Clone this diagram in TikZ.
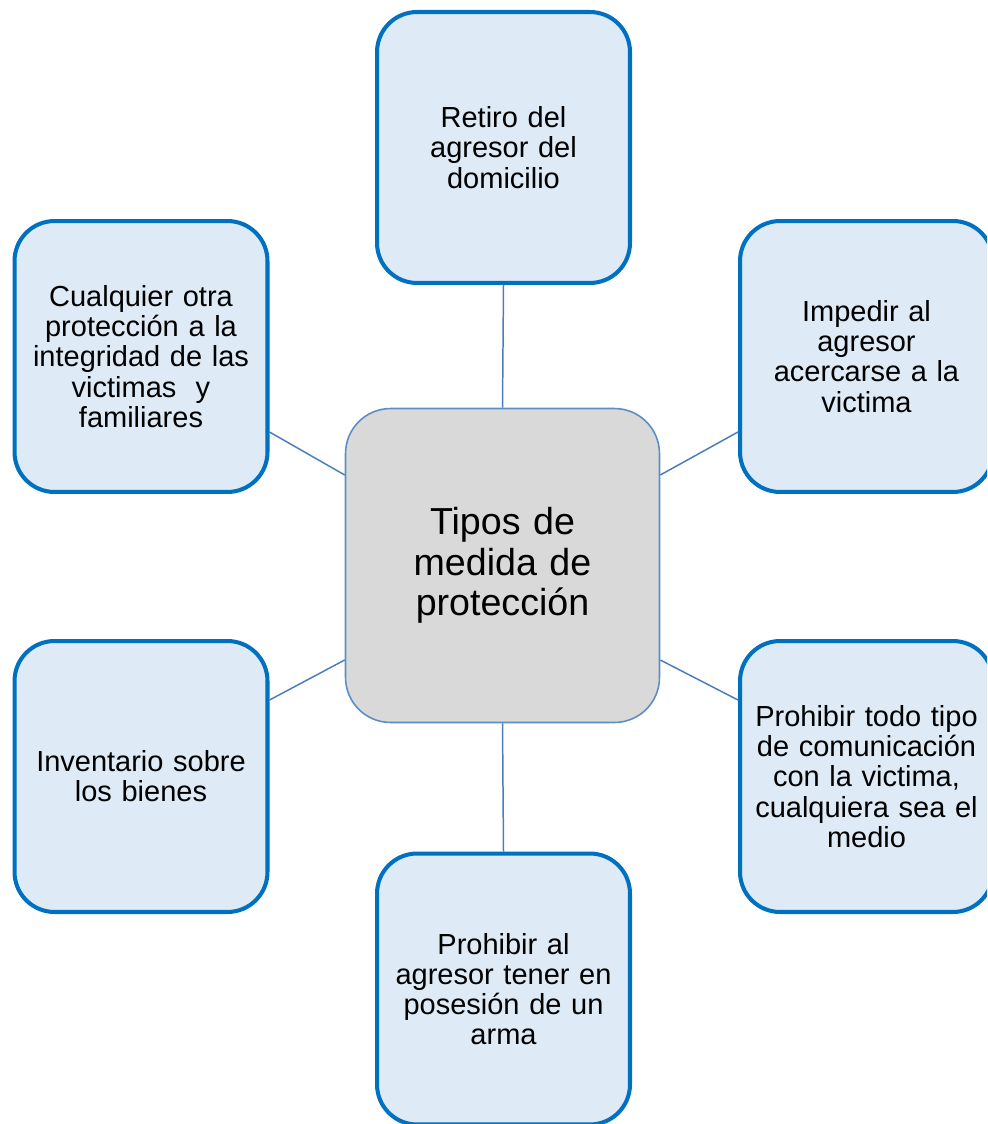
\documentclass[tikz,border=0pt]{standalone}
\usepackage{fontspec}
\setmainfont{Liberation Sans}
\usetikzlibrary{positioning,calc}
\definecolor{boxblue}{HTML}{0070C0}
\definecolor{boxfill}{HTML}{DEEAF6}
\definecolor{centerfill}{HTML}{D9D9D9}
\definecolor{centerline}{HTML}{5B8EC6}
\definecolor{linkblue}{HTML}{4A7EBB}

\begin{document}
\begin{tikzpicture}[x=0.02cm, y=-0.02cm,
  measure/.style={draw=boxblue, line width=2.3pt, fill=boxfill,
    rounded corners=0.8cm, minimum width=5.06cm, minimum height=5.42cm,
    text width=4.9cm, align=center, inner sep=0pt,
    font=\fontsize{16.5}{17.2}\selectfont},
  topic/.style={draw=centerline, line width=0.9pt, fill=centerfill,
    rounded corners=0.9cm, minimum width=6.28cm, minimum height=6.28cm,
    text width=5.8cm, align=center, inner sep=0pt,
    font=\fontsize{21.4}{23}\selectfont},
  link/.style={draw=linkblue, line width=0.85pt}]
  \clip (0,0) rectangle (987,1124);
  % centre
  \node[topic] (tipos) at (502.5,565.5) {Tipos de\\medida de\\protección};
  % the six measures
  \node[measure] (retiro) at (503.5,147.5) {Retiro del\\agresor del\\domicilio};
  \node[measure] (otra) at (141,356.5) {Cualquier otra\\protección a la\\integridad de las\\victimas\ \ y\\familiares};
  \node[measure] (impedir) at (866.5,356.5) {Impedir al\\agresor\\acercarse a la\\victima};
  \node[measure] (inventario) at (141,776.5) {Inventario sobre\\los bienes};
  \node[measure] (comunicacion) at (866.5,776.5) {Prohibir todo tipo\\de comunicación\\con la victima,\\cualquiera sea el\\medio};
  \node[measure] (arma) at (503.5,989) {Prohibir al\\agresor tener en\\posesión de un\\arma};
  % links
  \draw[link] (tipos.north) -- (retiro.south);
  \draw[link] (tipos.south) -- (arma.north);
  \draw[link] ([yshift=1.81cm]tipos.west) -- ([yshift=-1.51cm]otra.east);
  \draw[link] ([yshift=1.81cm]tipos.east) -- ([yshift=-1.51cm]impedir.west);
  \draw[link] ([yshift=-1.89cm]tipos.west) -- ([yshift=1.53cm]inventario.east);
  \draw[link] ([yshift=-1.89cm]tipos.east) -- ([yshift=1.53cm]comunicacion.west);
\end{tikzpicture}
\end{document}
